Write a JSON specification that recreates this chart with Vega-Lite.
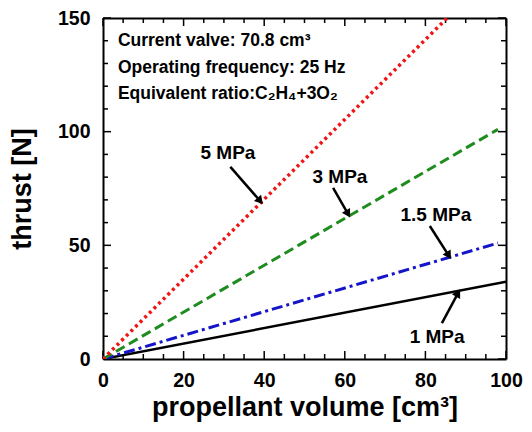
{
  "$schema": "https://vega.github.io/schema/vega-lite/v6.json",
  "width": 403,
  "height": 341,
  "autosize": {"type": "none"},
  "padding": {"left": 103, "top": 18, "right": 26, "bottom": 73},
  "background": "white",
  "config": {
    "view": {"stroke": null},
    "font": "Liberation Sans",
    "axis": {"grid": false, "domainColor": "black", "domainWidth": 2, "tickColor": "black", "tickWidth": 1.5, "labelFont": "Liberation Sans", "labelFontWeight": "bold", "labelFontSize": 19.5, "labelColor": "black", "titleFont": "Liberation Sans", "titleFontWeight": "bold", "titleFontSize": 27, "titleColor": "black", "labelOverlap": false, "labelFlush": false}
  },
  "datasets": {
    "lines": [
      {"series": "5 MPa", "volume": 0, "thrust": 0},
      {"series": "5 MPa", "volume": 85.4, "thrust": 150},
      {"series": "3 MPa", "volume": 0, "thrust": 0},
      {"series": "3 MPa", "volume": 98, "thrust": 101},
      {"series": "1.5 MPa", "volume": 0, "thrust": 0},
      {"series": "1.5 MPa", "volume": 98, "thrust": 51},
      {"series": "1 MPa", "volume": 0, "thrust": 0},
      {"series": "1 MPa", "volume": 100, "thrust": 34}
    ],
    "notes": [
      {"text": "Current valve: 70.8 cm³", "volume": 3.7, "thrust": 139.7},
      {"text": "Operating frequency: 25 Hz", "volume": 3.7, "thrust": 127.8},
      {"text": "Equivalent ratio:C₂H₄+3O₂", "volume": 3.7, "thrust": 116.4}
    ],
    "labels": [
      {"text": "5 MPa", "volume": 31, "thrust": 90.6},
      {"text": "3 MPa", "volume": 58.8, "thrust": 80},
      {"text": "1.5 MPa", "volume": 82.6, "thrust": 63.4},
      {"text": "1 MPa", "volume": 82.9, "thrust": 9.7}
    ],
    "arrows": [
      {"series": "5 MPa", "v1": 31.6, "t1": 84.5, "v2": 39.0, "t2": 69.5, "angle": 139},
      {"series": "3 MPa", "v1": 57.1, "t1": 75.3, "v2": 60.8, "t2": 63.8, "angle": 150},
      {"series": "1.5 MPa", "v1": 81.1, "t1": 58.5, "v2": 85.8, "t2": 45.5, "angle": 148},
      {"series": "1 MPa", "v1": 84.1, "t1": 15.8, "v2": 88.1, "t2": 29.0, "angle": 30}
    ],
    "xticks": [
      {"volume": 0, "kind": "major"}, {"volume": 5, "kind": "minor"}, {"volume": 10, "kind": "minor"}, {"volume": 15, "kind": "minor"},
      {"volume": 20, "kind": "major"}, {"volume": 25, "kind": "minor"}, {"volume": 30, "kind": "minor"}, {"volume": 35, "kind": "minor"},
      {"volume": 40, "kind": "major"}, {"volume": 45, "kind": "minor"}, {"volume": 50, "kind": "minor"}, {"volume": 55, "kind": "minor"},
      {"volume": 60, "kind": "major"}, {"volume": 65, "kind": "minor"}, {"volume": 70, "kind": "minor"}, {"volume": 75, "kind": "minor"},
      {"volume": 80, "kind": "major"}, {"volume": 85, "kind": "minor"}, {"volume": 90, "kind": "minor"}, {"volume": 95, "kind": "minor"},
      {"volume": 100, "kind": "major"}
    ],
    "yticks": [
      {"thrust": 0, "kind": "major"}, {"thrust": 10, "kind": "minor"}, {"thrust": 20, "kind": "minor"}, {"thrust": 30, "kind": "minor"}, {"thrust": 40, "kind": "minor"},
      {"thrust": 50, "kind": "major"}, {"thrust": 60, "kind": "minor"}, {"thrust": 70, "kind": "minor"}, {"thrust": 80, "kind": "minor"}, {"thrust": 90, "kind": "minor"},
      {"thrust": 100, "kind": "major"}, {"thrust": 110, "kind": "minor"}, {"thrust": 120, "kind": "minor"}, {"thrust": 130, "kind": "minor"}, {"thrust": 140, "kind": "minor"},
      {"thrust": 150, "kind": "major"}
    ]
  },
  "resolve": {"axis": {"x": "independent", "y": "independent"}},
  "layer": [
    {
      "data": {"name": "lines"},
      "transform": [{"filter": "datum.series === '1 MPa'"}],
      "mark": {"type": "line", "color": "black", "strokeWidth": 2.5, "clip": true},
      "encoding": {
        "x": {"field": "volume", "type": "quantitative", "scale": {"domain": [0, 100], "nice": false},
          "axis": {"orient": "bottom", "title": "propellant volume [cm³]", "titlePadding": 5, "values": [0, 20, 40, 60, 80, 100],
            "ticks": false, "labelPadding": 12}},
        "y": {"field": "thrust", "type": "quantitative", "scale": {"domain": [0, 150], "nice": false},
          "axis": {"orient": "left", "title": "thrust [N]", "titlePadding": 21, "values": [0, 50, 100, 150],
            "ticks": false, "labelPadding": 13}}
      }
    },
    {
      "data": {"name": "lines"},
      "mark": {"type": "point", "opacity": 0},
      "encoding": {
        "x": {"field": "volume", "type": "quantitative",
          "axis": {"orient": "top", "title": null, "labels": false, "ticks": false, "values": [0, 100]}},
        "y": {"field": "thrust", "type": "quantitative",
          "axis": {"orient": "right", "title": null, "labels": false, "ticks": false, "values": [0, 150]}}
      }
    },
    {
      "data": {"name": "xticks"},
      "layer": [
        {
          "transform": [{"filter": "datum.kind === 'major'"}],
          "mark": {"type": "rule", "color": "black", "strokeWidth": 1.5, "y": {"expr": "height"}, "y2": {"expr": "height - 8"}},
          "encoding": {"x": {"field": "volume", "type": "quantitative", "axis": null}}
        },
        {
          "transform": [{"filter": "datum.kind === 'minor'"}],
          "mark": {"type": "rule", "color": "black", "strokeWidth": 1.5, "y": {"expr": "height"}, "y2": {"expr": "height - 5"}},
          "encoding": {"x": {"field": "volume", "type": "quantitative", "axis": null}}
        },
        {
          "transform": [{"filter": "datum.kind === 'major'"}],
          "mark": {"type": "rule", "color": "black", "strokeWidth": 1.5, "y": 0, "y2": 8},
          "encoding": {"x": {"field": "volume", "type": "quantitative", "axis": null}}
        },
        {
          "transform": [{"filter": "datum.kind === 'minor'"}],
          "mark": {"type": "rule", "color": "black", "strokeWidth": 1.5, "y": 0, "y2": 5},
          "encoding": {"x": {"field": "volume", "type": "quantitative", "axis": null}}
        }
      ]
    },
    {
      "data": {"name": "yticks"},
      "layer": [
        {
          "transform": [{"filter": "datum.kind === 'major'"}],
          "mark": {"type": "rule", "color": "black", "strokeWidth": 1.5, "x": 0, "x2": 8},
          "encoding": {"y": {"field": "thrust", "type": "quantitative", "axis": null}}
        },
        {
          "transform": [{"filter": "datum.kind === 'minor'"}],
          "mark": {"type": "rule", "color": "black", "strokeWidth": 1.5, "x": 0, "x2": 5},
          "encoding": {"y": {"field": "thrust", "type": "quantitative", "axis": null}}
        },
        {
          "transform": [{"filter": "datum.kind === 'major'"}],
          "mark": {"type": "rule", "color": "black", "strokeWidth": 1.5, "x": {"expr": "width"}, "x2": {"expr": "width - 8"}},
          "encoding": {"y": {"field": "thrust", "type": "quantitative", "axis": null}}
        },
        {
          "transform": [{"filter": "datum.kind === 'minor'"}],
          "mark": {"type": "rule", "color": "black", "strokeWidth": 1.5, "x": {"expr": "width"}, "x2": {"expr": "width - 5"}},
          "encoding": {"y": {"field": "thrust", "type": "quantitative", "axis": null}}
        }
      ]
    },
    {
      "data": {"name": "lines"},
      "transform": [{"filter": "datum.series === '1.5 MPa'"}],
      "mark": {"type": "line", "color": "#1414c8", "strokeWidth": 3, "strokeDash": [11, 4, 3, 4], "clip": true},
      "encoding": {"x": {"field": "volume", "type": "quantitative", "axis": null}, "y": {"field": "thrust", "type": "quantitative", "axis": null}}
    },
    {
      "data": {"name": "lines"},
      "transform": [{"filter": "datum.series === '3 MPa'"}],
      "mark": {"type": "line", "color": "#1e8c1e", "strokeWidth": 3, "strokeDash": [10, 5], "clip": true},
      "encoding": {"x": {"field": "volume", "type": "quantitative", "axis": null}, "y": {"field": "thrust", "type": "quantitative", "axis": null}}
    },
    {
      "data": {"name": "lines"},
      "transform": [{"filter": "datum.series === '5 MPa'"}],
      "mark": {"type": "line", "color": "#f01414", "strokeWidth": 3.5, "strokeDash": [3, 3.5], "clip": true},
      "encoding": {"x": {"field": "volume", "type": "quantitative", "axis": null}, "y": {"field": "thrust", "type": "quantitative", "axis": null}}
    },
    {
      "data": {"name": "notes"},
      "mark": {"type": "text", "align": "left", "baseline": "middle", "fontSize": 17.5, "fontWeight": "bold", "color": "black"},
      "encoding": {"x": {"field": "volume", "type": "quantitative", "axis": null}, "y": {"field": "thrust", "type": "quantitative", "axis": null}, "text": {"field": "text"}}
    },
    {
      "data": {"name": "labels"},
      "mark": {"type": "text", "align": "center", "baseline": "middle", "fontSize": 19, "fontWeight": "bold", "color": "black"},
      "encoding": {"x": {"field": "volume", "type": "quantitative", "axis": null}, "y": {"field": "thrust", "type": "quantitative", "axis": null}, "text": {"field": "text"}}
    },
    {
      "data": {"name": "arrows"},
      "mark": {"type": "rule", "color": "black", "strokeWidth": 2.5},
      "encoding": {"x": {"field": "v1", "type": "quantitative", "axis": null}, "y": {"field": "t1", "type": "quantitative", "axis": null}, "x2": {"field": "v2"}, "y2": {"field": "t2"}}
    },
    {
      "data": {"name": "arrows"},
      "mark": {"type": "point", "shape": "triangle-up", "filled": true, "color": "black", "size": 90, "opacity": 1},
      "encoding": {"x": {"field": "v2", "type": "quantitative", "axis": null}, "y": {"field": "t2", "type": "quantitative", "axis": null}, "angle": {"field": "angle", "type": "quantitative", "scale": null}}
    }
  ]
}
